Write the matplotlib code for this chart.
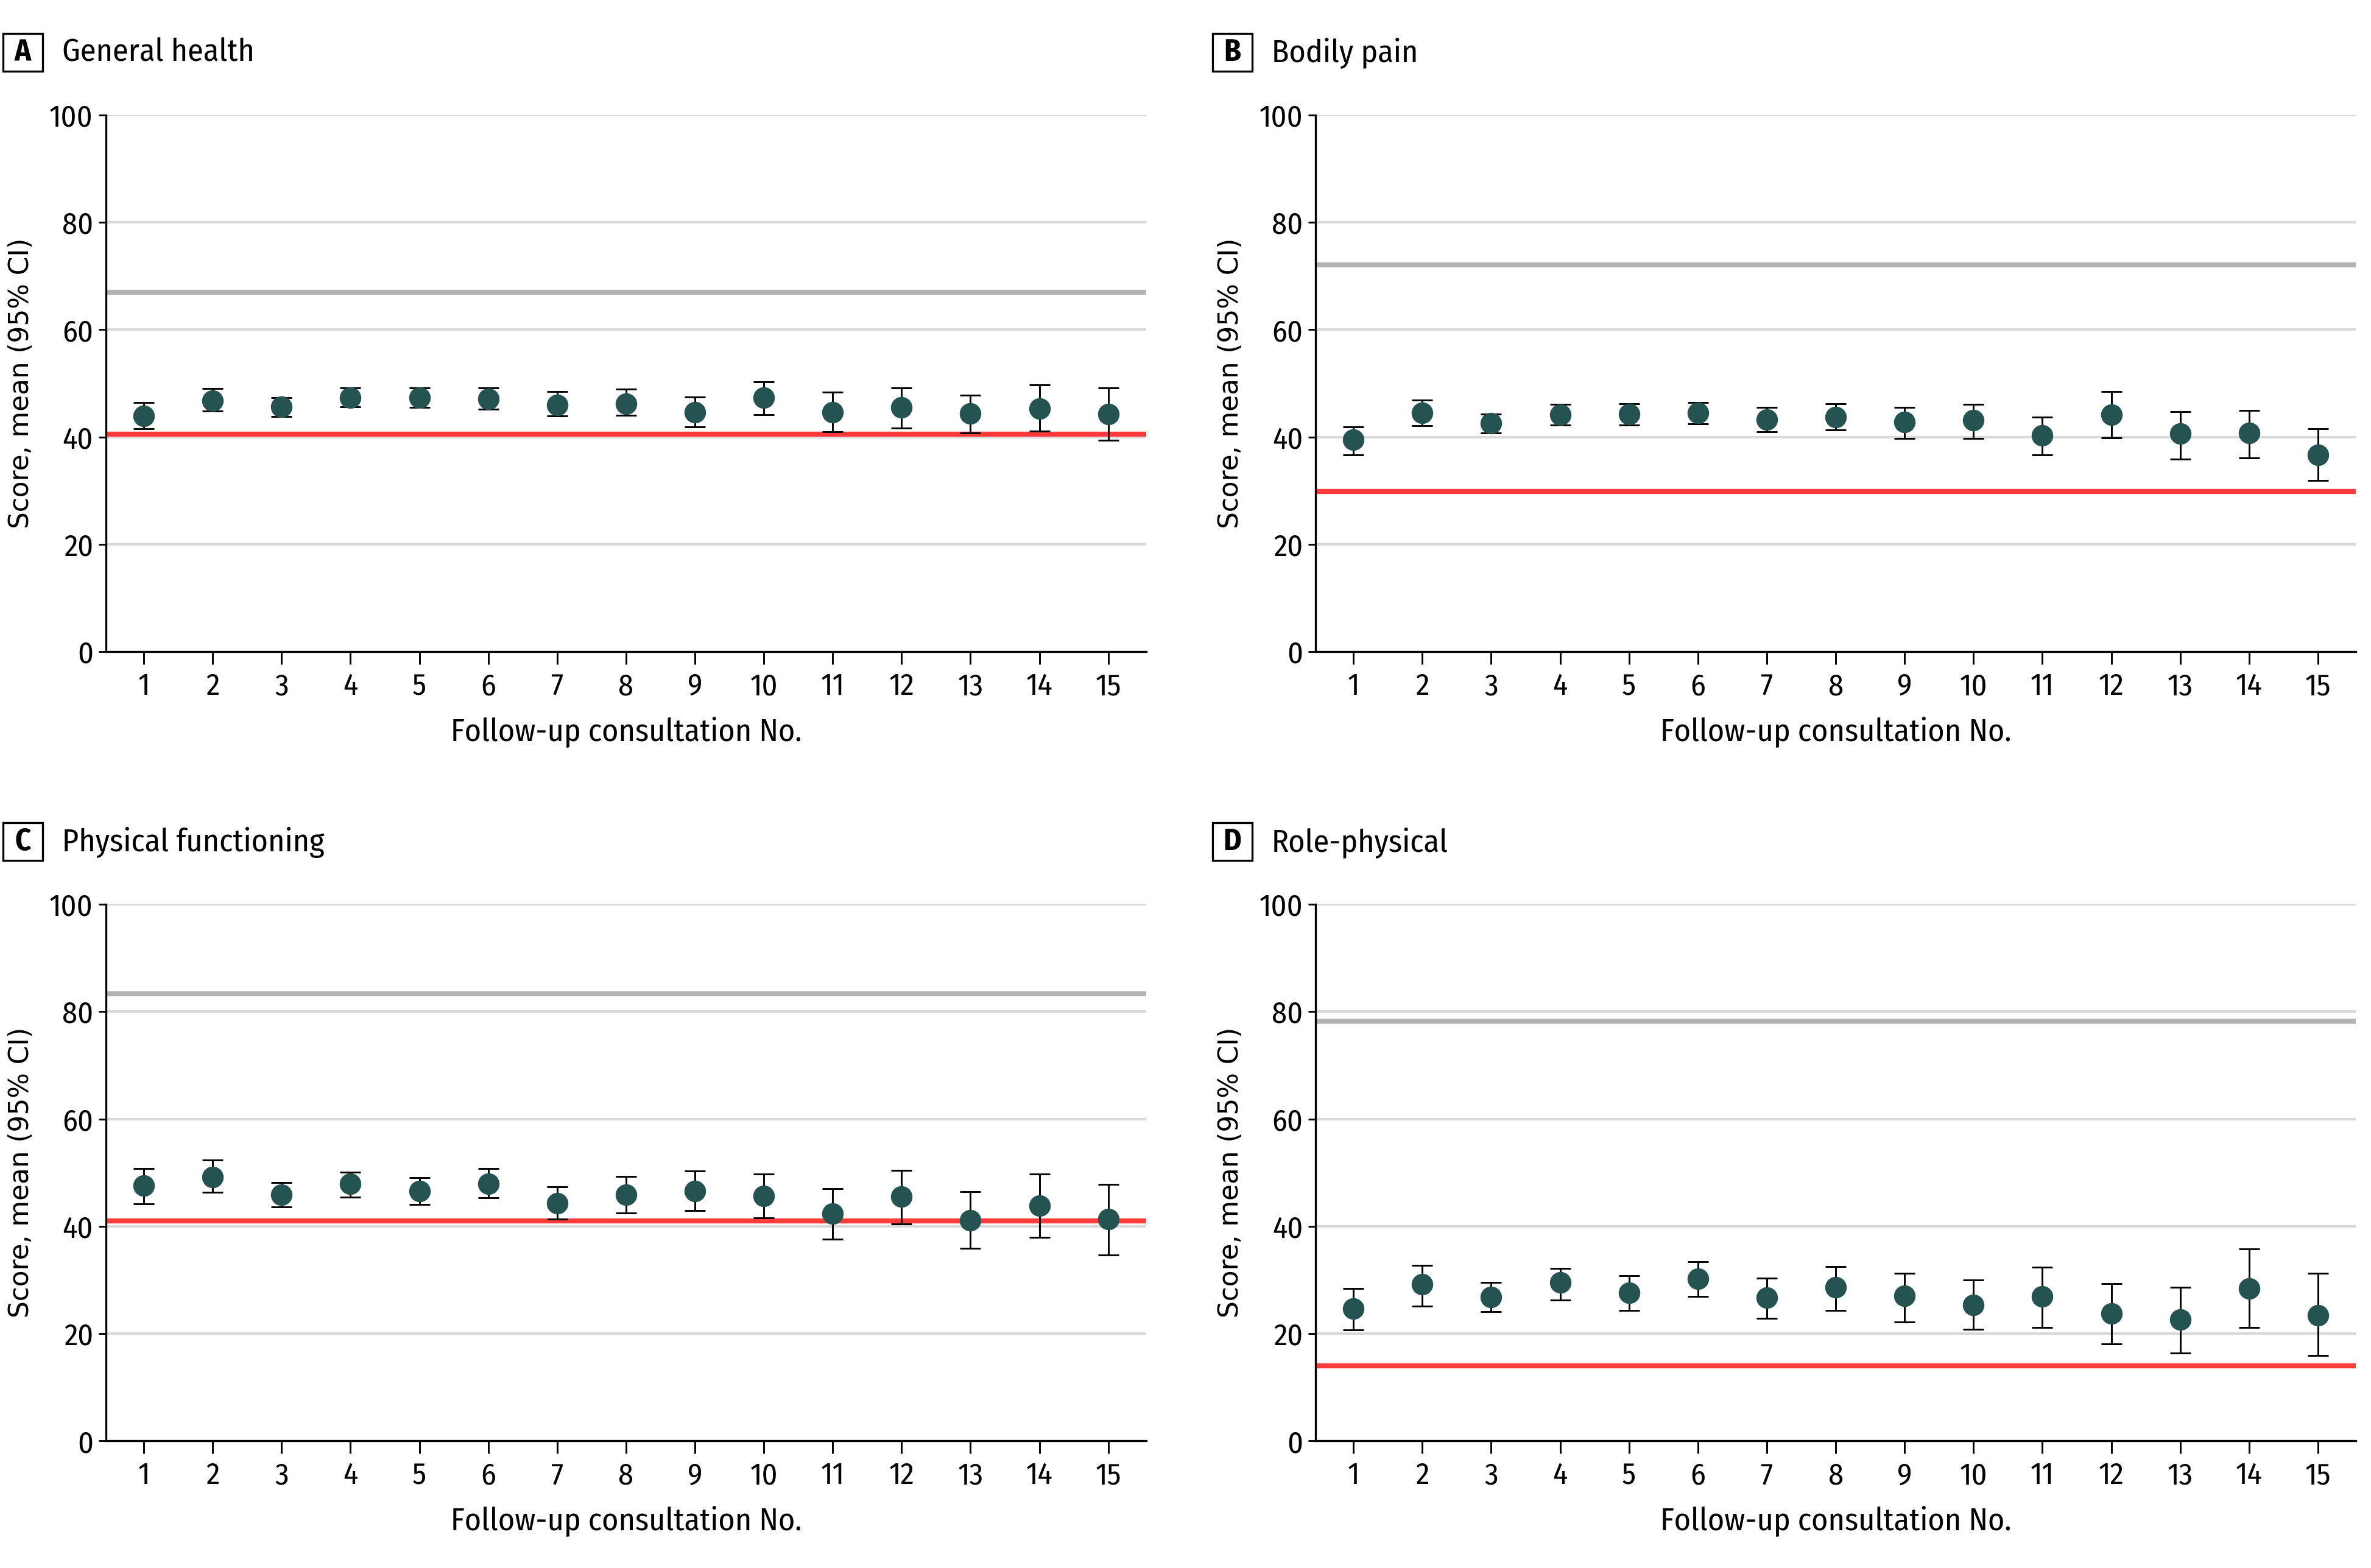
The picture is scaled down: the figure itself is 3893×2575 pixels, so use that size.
import matplotlib
matplotlib.use("Agg")
import matplotlib.pyplot as plt
from matplotlib.patches import Rectangle

# follow-up consultations
visits = list(range(1, 16))

# A - General health
gh_mean = [43.9, 46.8, 45.6, 47.3, 47.3, 47.1, 46.0, 46.2, 44.6, 47.3, 44.6, 45.5, 44.4, 45.3, 44.3]
gh_low = [41.5, 44.8, 43.8, 45.6, 45.5, 45.2, 43.9, 44.0, 41.9, 44.2, 41.0, 41.7, 40.7, 41.1, 39.4]
gh_high = [46.4, 49.0, 47.3, 49.2, 49.2, 49.2, 48.5, 48.9, 47.5, 50.3, 48.3, 49.1, 47.8, 49.7, 49.1]
gh_norm = 67.0
gh_ref = 40.5

# B - Bodily pain
bp_mean = [39.5, 44.5, 42.6, 44.2, 44.3, 44.5, 43.3, 43.7, 42.8, 43.1, 40.3, 44.2, 40.6, 40.7, 36.7]
bp_low = [36.7, 42.1, 40.7, 42.2, 42.2, 42.4, 41.0, 41.3, 39.7, 39.7, 36.7, 39.9, 35.9, 36.1, 31.9]
bp_high = [41.9, 46.9, 44.3, 46.1, 46.2, 46.4, 45.5, 46.2, 45.5, 46.1, 43.7, 48.5, 44.7, 45.0, 41.5]
bp_norm = 72.1
bp_ref = 29.9

# C - Physical functioning
pf_mean = [47.6, 49.2, 45.9, 47.9, 46.6, 47.9, 44.3, 45.9, 46.6, 45.7, 42.4, 45.5, 41.1, 43.8, 41.3]
pf_low = [44.2, 46.3, 43.6, 45.4, 44.1, 45.3, 41.3, 42.5, 42.9, 41.6, 37.6, 40.4, 35.9, 37.9, 34.7]
pf_high = [50.7, 52.3, 48.1, 50.1, 49.1, 50.7, 47.3, 49.3, 50.3, 49.7, 47.0, 50.4, 46.5, 49.7, 47.8]
pf_norm = 83.3
pf_ref = 41.0

# D - Role-physical
rp_mean = [24.7, 29.2, 26.8, 29.5, 27.6, 30.2, 26.7, 28.6, 27.1, 25.4, 26.9, 23.7, 22.6, 28.4, 23.4]
rp_low = [20.7, 25.1, 24.1, 26.3, 24.3, 26.9, 22.8, 24.3, 22.2, 20.8, 21.1, 18.1, 16.4, 21.1, 15.9]
rp_high = [28.4, 32.7, 29.5, 32.2, 30.8, 33.4, 30.3, 32.5, 31.3, 30.0, 32.4, 29.3, 28.6, 35.8, 31.2]
rp_norm = 78.2
rp_ref = 14.0

panels = [
    ("A", "General health", gh_mean, gh_low, gh_high, gh_norm, gh_ref),
    ("B", "Bodily pain", bp_mean, bp_low, bp_high, bp_norm, bp_ref),
    ("C", "Physical functioning", pf_mean, pf_low, pf_high, pf_norm, pf_ref),
    ("D", "Role-physical", rp_mean, rp_low, rp_high, rp_norm, rp_ref),
]

# condensed face for ticks/titles, Verdana-like face for the y label
NARROW = ["Fira Sans Condensed", "Fira Sans Extra Condensed", "DejaVu Sans"]
WIDE = ["DejaVu Sans"]

DOT = "#245352"
GRID = "#d9d9d9"
NORM = "#b3b3b3"
RED = "#ff3b3b"

W, H = 1568.0, 1037.0  # layout measured on the reduced reference
fig = plt.figure(figsize=(3893 / 300, 2575 / 300), dpi=300)

# (left px, top px) of each panel's axes on the reduced reference
boxes = [(70, 76), (870, 76), (70, 598), (870, 598)]
ax_w, ax_h = 688, 355

for (letter, title, mean, low, high, norm, ref), (lx, ty) in zip(panels, boxes):
    ax = fig.add_axes([lx / W, 1 - (ty + ax_h) / H, ax_w / W, ax_h / H])
    for g in (20, 40, 60, 80, 100):
        ax.axhline(g, color=GRID, lw=1.0, zorder=0)
    ax.axhline(norm, color=NORM, lw=2.0, zorder=1)
    ax.axhline(ref, color=RED, lw=2.0, zorder=1)

    yerr = [[m - lo for m, lo in zip(mean, low)], [hi - m for m, hi in zip(mean, high)]]
    ax.errorbar(visits, mean, yerr=yerr, fmt="o", color=DOT, ms=7.5,
                ecolor="black", elinewidth=0.7, capsize=4, capthick=0.7, zorder=3)

    ax.set_xlim(0.45, 15.55)
    ax.set_ylim(0, 100)
    ax.set_xticks(visits)
    ax.set_yticks([0, 20, 40, 60, 80, 100])
    ax.tick_params(axis="both", labelsize=12, width=0.7, color="black")
    ax.tick_params(axis="x", length=5, pad=3)
    ax.tick_params(axis="y", length=3, pad=2)
    for lab in ax.get_xticklabels() + ax.get_yticklabels():
        lab.set_fontfamily(NARROW)
    for s in ("top", "right"):
        ax.spines[s].set_visible(False)
    for s in ("left", "bottom"):
        ax.spines[s].set_linewidth(0.8)
    ax.set_xlabel("Follow-up consultation No.", fontsize=12.5, family=NARROW, labelpad=6)
    ax.set_ylabel("Score, mean (95% CI)", fontsize=10.5, family=WIDE, labelpad=6)

    # panel letter in a box + title
    bx = lx - 68
    cy = 1 - (35 + ty - 76) / H
    fig.add_artist(Rectangle((bx / W, 1 - (47 + ty - 76) / H), 26 / W, 25 / H,
                             transform=fig.transFigure, fill=False, ec="black", lw=0.8))
    fig.text((bx + 13) / W, cy, letter, ha="center", va="center",
             fontsize=12, fontweight="bold", family=NARROW)
    fig.text((bx + 39) / W, cy, title, ha="left", va="center",
             fontsize=12.5, family=NARROW)

fig.savefig("out.png", dpi=300)
